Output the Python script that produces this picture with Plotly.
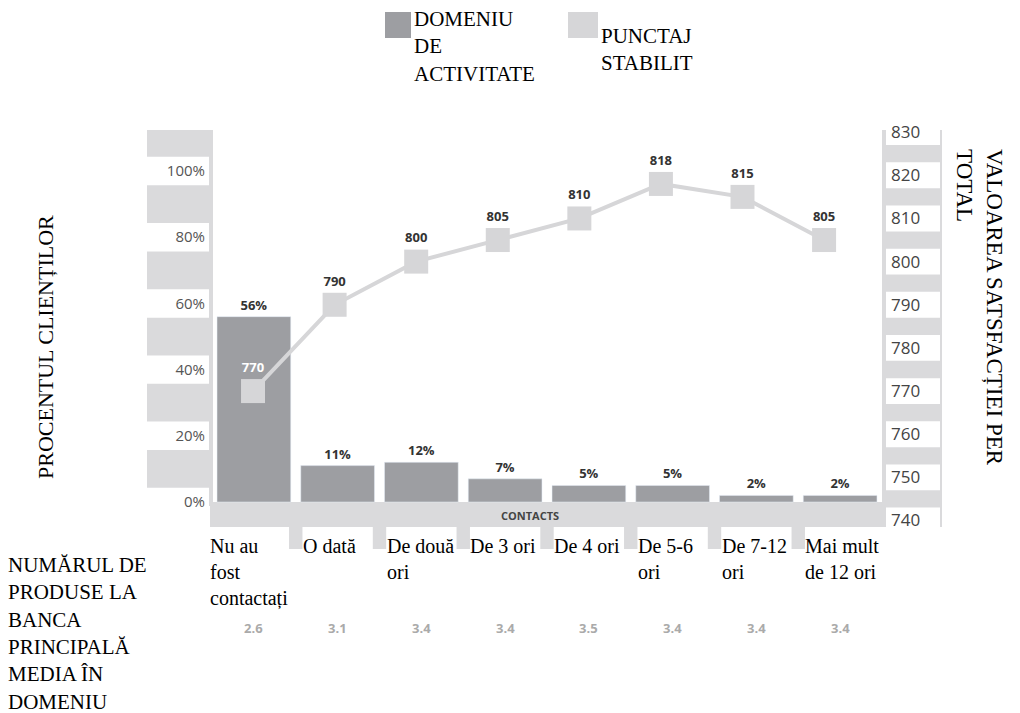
import plotly.graph_objects as go

# ---------------- data ----------------
categories = ["Nu au<br>fost<br>contactați", "O dată", "De două<br>ori", "De 3 ori",
              "De 4 ori", "De 5-6<br>ori", "De 7-12<br>ori", "Mai mult<br>de 12 ori"]
cat_keys = ["c0", "c1", "c2", "c3", "c4", "c5", "c6", "c7"]
pct_clients = [56, 11, 12, 7, 5, 5, 2, 2]
scores = [770, 790, 800, 805, 810, 818, 815, 805]
products_avg = ["2.6", "3.1", "3.4", "3.4", "3.5", "3.4", "3.4", "3.4"]
pct_ticks = [0, 20, 40, 60, 80, 100]
score_ticks = [740, 750, 760, 770, 780, 790, 800, 810, 820, 830]

# ---------------- style ----------------
BAR_C = "#9d9ea2"
LIGHT_C = "#d6d6d8"
BAND_C = "#dadadc"
SERIF = "Liberation Serif"
SANS = "Open Sans, Lato, sans-serif"

OFF = 8  # page body margin
W, H = 1020, 713
PL, PR, PT, PB = 212, 882, 130, 527  # plot area in page pixels
L, R, T, B = PL - OFF, W - (PR - OFF), PT - OFF, H - (PB - OFF)
PW, PH = PR - PL, PB - PT


def px(x):  # page pixel -> paper x
    return (x - PL) / PW


def py(y):  # page pixel -> paper y
    return (PB - y) / PH


fig = go.Figure()

fig.add_trace(go.Bar(
    x=cat_keys, y=pct_clients, marker_color=BAR_C, width=0.88,
    text=[f"{v}%" for v in pct_clients], textposition="outside",
    textfont=dict(family=SANS, size=13, color="#333333", weight="bold"),
    cliponaxis=False, showlegend=False, hoverinfo="skip",
))

fig.add_trace(go.Scatter(
    x=cat_keys, y=scores, xaxis="x2", yaxis="y2",
    mode="lines+markers+text",
    line=dict(color=LIGHT_C, width=4),
    marker=dict(symbol="square", size=24, color=LIGHT_C),
    text=[str(v) for v in scores], textposition="top center",
    textfont=dict(family=SANS, size=13, weight="bold",
                  color=["white"] + ["#333333"] * (len(scores) - 1)),
    cliponaxis=False, showlegend=False, hoverinfo="skip",
))

shapes = []
# left band
shapes.append(dict(type="rect", xref="paper", yref="paper", x0=px(147), x1=px(213),
                   y0=py(506), y1=1, fillcolor=BAND_C, line_width=0, layer="below"))
for t in pct_ticks:
    shapes.append(dict(type="rect", xref="paper", yref="y", x0=px(147), x1=px(209),
                       y0=t - 4.3, y1=t + 4.3, fillcolor="white", line_width=0, layer="below"))
# right band
shapes.append(dict(type="rect", xref="paper", yref="paper", x0=px(882), x1=px(942),
                   y0=0, y1=1, fillcolor=BAND_C, line_width=0, layer="below"))
for t in score_ticks:
    shapes.append(dict(type="rect", xref="paper", yref="y2", x0=px(886), x1=px(940),
                       y0=t - 3.0, y1=t + 3.0, fillcolor="white", line_width=0, layer="below"))
# contacts band
shapes.append(dict(type="rect", xref="paper", yref="paper", x0=px(210), x1=1,
                   y0=0, y1=py(502), fillcolor=BAND_C, line_width=0, layer="below"))
# tabs between categories
for k in range(len(cat_keys) - 1):
    shapes.append(dict(type="rect", xref="x", yref="paper", x0=k + 0.5 - 0.08, x1=k + 0.5 + 0.08,
                       y0=py(549), y1=0, fillcolor=BAND_C, line_width=0, layer="below"))
# legend swatches
shapes.append(dict(type="rect", xref="paper", yref="paper", x0=px(385), x1=px(411),
                   y0=py(38), y1=py(12), fillcolor=BAR_C, line_width=0))
shapes.append(dict(type="rect", xref="paper", yref="paper", x0=px(568), x1=px(598),
                   y0=py(38), y1=py(12), fillcolor=LIGHT_C, line_width=0))


def sf(size):
    return dict(family=SERIF, size=size, color="black")


ann = []
ann.append(dict(xref="paper", yref="paper", x=px(412), y=py(5), xanchor="left", yanchor="top",
                align="left", text="DOMENIU<br>DE<br>ACTIVITATE", showarrow=False, font=sf(21)))
ann.append(dict(xref="paper", yref="paper", x=px(599), y=py(22), xanchor="left", yanchor="top",
                align="left", text="PUNCTAJ<br>STABILIT", showarrow=False, font=sf(21)))
ann.append(dict(xref="paper", yref="paper", x=px(45), y=py(347), xanchor="center", yanchor="middle",
                text="PROCENTUL CLIENȚILOR", textangle=-90, showarrow=False, font=sf(22)))
ann.append(dict(xref="paper", yref="paper", x=px(980), y=py(307), xanchor="center", yanchor="middle",
                align="left", text="VALOAREA SATSFACȚIEI PER<br>TOTAL", textangle=90,
                showarrow=False, font=sf(23)))
ann.append(dict(xref="paper", yref="paper", x=px(6), y=py(551), xanchor="left", yanchor="top",
                align="left", text="NUMĂRUL DE<br>PRODUSE LA<br>BANCA<br>PRINCIPALĂ<br>MEDIA ÎN<br>DOMENIU",
                showarrow=False, font=sf(21)))
ann.append(dict(xref="paper", yref="paper", x=px(530), y=py(515), xanchor="center", yanchor="middle",
                text="<b>CONTACTS</b>", showarrow=False,
                font=dict(family=SANS, size=11, color="#444444")))
for i, (k, lab) in enumerate(zip(cat_keys, categories)):
    ann.append(dict(xref="x", yref="paper", x=i - 0.5, xshift=(-4 if i == 0 else 5), y=py(533),
                    xanchor="left", yanchor="top", align="left", text=lab, showarrow=False,
                    font=sf(20)))
    ann.append(dict(xref="x", yref="paper", x=i, y=py(628), xanchor="center", yanchor="middle",
                    text=f"<b>{products_avg[i]}</b>", showarrow=False,
                    font=dict(family=SANS, size=13, color="#aaaaaa")))

fig.update_layout(
    width=W, height=H, autosize=False,
    margin=dict(l=L, r=R, t=T, b=B),
    paper_bgcolor="white", plot_bgcolor="white",
    bargap=0.12,
    xaxis=dict(type="category", range=[-0.5, 7.5], showticklabels=False, showgrid=False,
               zeroline=False, showline=False, ticks=""),
    xaxis2=dict(type="category", overlaying="x", range=[-0.503, 7.71], visible=False),
    yaxis=dict(range=[-7.55, 112.4], tickvals=pct_ticks, ticktext=[f"{t}%" for t in pct_ticks],
               showgrid=False, zeroline=False, showline=False, ticks="",
               tickfont=dict(family=SANS, size=15, color="#555555"), ticklabelstandoff=6),
    yaxis2=dict(range=[738.5, 830.5], tickvals=score_ticks, overlaying="y", side="right",
                showgrid=False, zeroline=False, showline=False, ticks="",
                tickfont=dict(family=SANS, size=17, color="#444444"), ticklabelstandoff=8),
    shapes=shapes, annotations=ann,
)

fig.write_html("out.html")
